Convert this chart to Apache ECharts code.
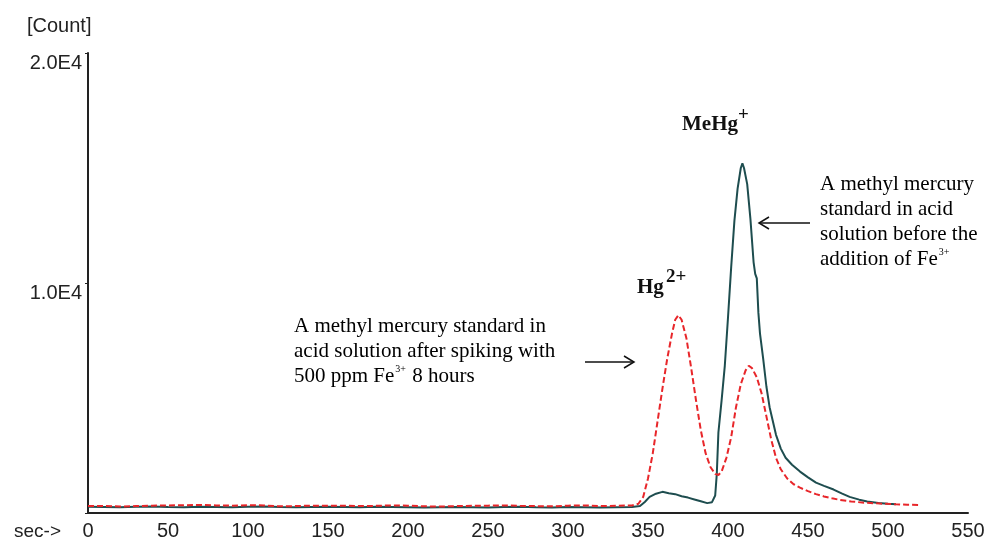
<!DOCTYPE html>
<html>
<head>
<meta charset="utf-8">
<style>
  html, body { margin: 0; padding: 0; background: #fff; }
  #chart { width: 994px; height: 541px; }
</style>
<script src="https://cdn.jsdelivr.net/npm/echarts@6/dist/echarts.min.js"></script>
</head>
<body>
<div id="chart"></div>
<script>
// x axis ticks (sec)
var xTicks = [0, 50, 100, 150, 200, 250, 300, 350, 400, 450, 500, 550];
// y tick labels
var yTickLabels = { 10000: '1.0E4', 20000: '2.0E4' };

// after spiking with Fe3+ (red, dashed)
var redTime = [0, 10, 20, 30, 40, 50, 60, 70, 80, 90, 100, 110, 120, 130, 140, 150, 160, 170, 180, 190,
  200, 210, 220, 230, 240, 250, 260, 270, 280, 290, 300, 310, 320, 330, 340,
  344, 347, 350, 353, 356, 359, 362, 365, 367, 369, 371, 374, 377, 380, 383, 386, 389, 392, 394,
  396, 399, 402, 405, 408, 411, 413, 415, 418, 421, 424, 427, 430, 433, 437, 441, 445, 450, 455,
  460, 465, 470, 477, 485, 495, 505, 512, 520];
var redCount = [300, 310, 280, 300, 320, 330, 340, 350, 330, 320, 340, 330, 290, 300, 320, 310, 320, 300, 310, 330,
  320, 290, 280, 300, 310, 320, 330, 310, 300, 290, 320, 330, 300, 310, 330,
  400, 700, 1500, 2600, 4000, 5400, 6700, 7800, 8400, 8600, 8400, 7600, 6300, 4900, 3600, 2600, 2000, 1700, 1650,
  1800, 2400, 3300, 4600, 5600, 6200, 6400, 6300, 5900, 5200, 4200, 3200, 2400, 1900, 1500, 1250, 1100, 950, 820,
  720, 640, 570, 500, 450, 410, 380, 360, 350];

// before addition of Fe3+ (dark teal, solid)
var tealTime = [0, 10, 20, 30, 40, 50, 60, 70, 80, 90, 100, 110, 120, 130, 140, 150, 160, 170, 180, 190,
  200, 210, 220, 230, 240, 250, 260, 270, 280, 290, 300, 310, 320, 330, 340,
  345, 348, 351, 355, 359, 363, 367, 371, 375, 379, 383, 387, 390, 392, 393, 394, 396, 398, 400,
  402, 404, 406, 408, 409, 410, 412, 414, 416, 417, 418, 419, 420, 422, 424, 426, 428, 430, 433,
  436, 440, 445, 450, 455, 460, 466, 471, 476, 482, 487, 494, 500, 505];
var tealCount = [270, 260, 250, 270, 280, 260, 250, 270, 260, 250, 270, 280, 260, 250, 260, 270, 260, 250, 270, 260,
  250, 240, 250, 260, 250, 240, 260, 270, 250, 240, 260, 250, 240, 250, 260,
  300, 480, 700, 840, 920, 860, 820, 730, 670, 590, 510, 430, 470, 760, 1700, 3500, 4900, 6400, 8500,
  10700, 12700, 14100, 15000, 15200, 15000, 14300, 12800, 10900, 10400, 10200, 8700, 7800, 6700, 5500, 4600, 4000, 3400, 2800,
  2400, 2100, 1800, 1550, 1320, 1180, 1020, 850, 700, 580, 500, 430, 400, 380];

function pairs(t, v) {
  return t.map(function (x, i) { return [x, v[i]]; });
}

var sansFont = '"Liberation Sans", Arial, sans-serif';
var serifFont = '"Liberation Serif", "Times New Roman", serif';

// rich styles for annotation text with superscripts
var noteRich = {
  n: { fontFamily: serifFont, fontSize: 21, lineHeight: 25, color: '#111' },
  sup: { fontFamily: serifFont, fontSize: 10, lineHeight: 10, verticalAlign: 'top', padding: [0, 1, 0, 1], color: '#111' }
};

var chart = echarts.init(document.getElementById('chart'));
chart.setOption({
  animation: false,
  backgroundColor: '#fff',
  grid: { left: 88, right: 26, top: 53, bottom: 27 },
  xAxis: {
    type: 'value',
    min: 0,
    max: 550,
    interval: 50,
    axisLine: { show: true, onZero: false, lineStyle: { color: '#222', width: 2 } },
    axisTick: { show: false },
    splitLine: { show: false },
    axisLabel: {
      margin: 8,
      color: '#222',
      fontFamily: sansFont,
      fontSize: 20,
      verticalAlign: 'top'
    }
  },
  yAxis: {
    type: 'value',
    min: 0,
    max: 20000,
    interval: 10000,
    axisLine: { show: true, lineStyle: { color: '#222', width: 2 } },
    axisTick: { show: true, length: 3, lineStyle: { color: '#222' } },
    splitLine: { show: false },
    axisLabel: {
      margin: 6,
      color: '#222',
      fontFamily: sansFont,
      fontSize: 20,
      verticalAlign: 'top',
      formatter: function (v) { return yTickLabels[v] || ''; }
    }
  },
  series: [
    {
      name: 'before Fe3+',
      type: 'line',
      data: pairs(tealTime, tealCount),
      showSymbol: false,
      lineStyle: { color: '#1e4d4f', width: 2 },
      z: 2
    },
    {
      name: 'after Fe3+',
      type: 'line',
      data: pairs(redTime, redCount),
      showSymbol: false,
      lineStyle: { color: '#e8262a', width: 2, type: [6, 3] },
      z: 3
    }
  ],
  graphic: [
    { type: 'text', left: 27, top: 16, style: { text: '[Count]', font: '20px ' + sansFont, fill: '#222' } },
    { type: 'text', left: 14, top: 522, style: { text: 'sec->', font: '19px ' + sansFont, fill: '#222' } },

    // peak labels
    { type: 'text', left: 682, top: 114, style: { text: 'MeHg', font: 'bold 21px ' + serifFont, fill: '#111' } },
    { type: 'text', left: 738, top: 106, style: { text: '+', font: 'bold 19px ' + serifFont, fill: '#111' } },
    { type: 'text', left: 637, top: 277, style: { text: 'Hg', font: 'bold 21px ' + serifFont, fill: '#111' } },
    { type: 'text', left: 666, top: 268, style: { text: '2+', font: 'bold 19px ' + serifFont, fill: '#111' } },

    // left annotation
    { type: 'text', left: 294, top: 316, style: {
      text: '{n|A methyl mercury standard in}\n{n|acid solution after spiking with}\n{n|500 ppm Fe}{sup|3+}{n| 8 hours}',
      rich: noteRich } },
    { type: 'line', shape: { x1: 585, y1: 362, x2: 634, y2: 362 }, style: { stroke: '#111', lineWidth: 1.5 } },
    { type: 'polyline', shape: { points: [[624, 356], [634, 362], [624, 368]] }, style: { stroke: '#111', lineWidth: 1.5, fill: null } },

    // right annotation
    { type: 'text', left: 820, top: 174, style: {
      text: '{n|A methyl mercury}\n{n|standard in acid}\n{n|solution before the}\n{n|addition of Fe}{sup|3+}',
      rich: noteRich } },
    { type: 'line', shape: { x1: 759, y1: 223, x2: 810, y2: 223 }, style: { stroke: '#111', lineWidth: 1.5 } },
    { type: 'polyline', shape: { points: [[769, 217], [759, 223], [769, 229]] }, style: { stroke: '#111', lineWidth: 1.5, fill: null } }
  ]
});
</script>
</body>
</html>
